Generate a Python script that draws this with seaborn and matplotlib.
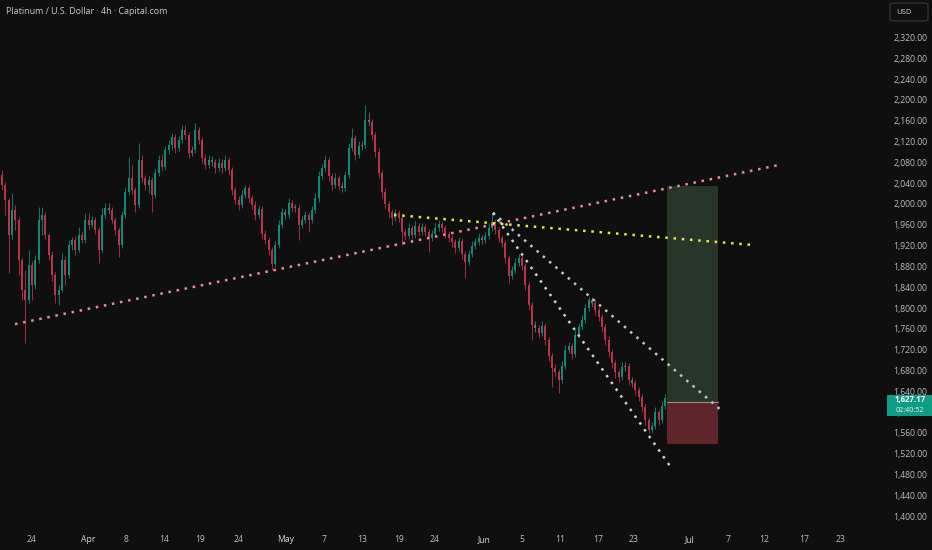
import matplotlib
matplotlib.use("Agg")
import matplotlib.pyplot as plt
from matplotlib.patches import Rectangle, FancyBboxPatch
import seaborn as sns
import numpy as np
import pandas as pd

FIRST_OPEN = 2056
CLOSES = [
    2037, 2008, 1940, 1988, 1969, 1892, 1835, 1815, 1883, 1844,
    1892, 1969, 1979, 1940, 1902, 1863, 1825, 1835, 1892, 1863,
    1921, 1931, 1912, 1940, 1931, 1969, 1960, 1969, 1950, 1912,
    1979, 1992, 1988, 1969, 1950, 1921, 1979, 2023, 2050, 2027,
    1998, 2085, 2050, 2037, 2046, 2017, 2060, 2085, 2071, 2104,
    2113, 2129, 2108, 2123, 2142, 2133, 2098, 2104, 2142, 2123,
    2088, 2075, 2085, 2081, 2069, 2079, 2069, 2085, 2065, 2027,
    2008, 1998, 2017, 2031, 2011, 1998, 1979, 1990, 1942, 1931,
    1912, 1885, 1921, 1960, 1985, 1979, 2002, 1992, 1992, 1960,
    1969, 1979, 1969, 1988, 2011, 2054, 2069, 2085, 2054, 2037,
    2050, 2035, 2031, 2056, 2108, 2127, 2094, 2111, 2113, 2162,
    2158, 2133, 2100, 2060, 2023, 2000, 1985, 1973, 1983, 1973,
    1946, 1938, 1954, 1940, 1958, 1946, 1956, 1946, 1935, 1942,
    1954, 1962, 1954, 1942, 1935, 1927, 1915, 1929, 1904, 1889,
    1904, 1919, 1927, 1935, 1931, 1938, 1954, 1965, 1950, 1935,
    1925, 1896, 1861, 1873, 1887, 1896, 1881, 1844, 1806, 1767,
    1761, 1752, 1765, 1738, 1708, 1685, 1677, 1662, 1688, 1719,
    1727, 1712, 1748, 1763, 1777, 1800, 1815, 1810, 1796, 1783,
    1763, 1738, 1715, 1694, 1677, 1667, 1686, 1688, 1662, 1656,
    1642, 1629, 1610, 1585, 1565, 1573, 1600, 1585, 1612, 1627.17,
]
WICK_UP = [
    9, 5, 4, 33, 10, 6, 5, 38, 29, 8,
    10, 25, 15, 6, 5, 8, 6, 10, 14, 8,
    10, 6, 8, 16, 8, 14, 14, 8, 6, 5,
    13, 10, 10, 6, 6, 5, 8, 10, 40, 25,
    6, 32, 10, 6, 8, 6, 8, 10, 12, 8,
    10, 8, 6, 8, 10, 10, 6, 8, 14, 6,
    6, 8, 10, 8, 6, 10, 8, 10, 6, 6,
    6, 8, 10, 6, 6, 6, 8, 8, 6, 8,
    6, 6, 8, 10, 8, 6, 10, 6, 8, 6,
    8, 8, 6, 8, 10, 10, 8, 9, 6, 6,
    10, 6, 8, 8, 10, 19, 6, 10, 8, 28,
    15, 6, 6, 8, 6, 8, 6, 6, 8, 6,
    6, 6, 10, 6, 10, 6, 8, 6, 6, 8,
    10, 8, 6, 6, 6, 6, 6, 8, 6, 6,
    8, 10, 8, 10, 6, 8, 10, 18, 6, 6,
    6, 6, 6, 8, 10, 8, 6, 6, 6, 6,
    8, 6, 10, 6, 6, 6, 8, 6, 10, 10,
    8, 6, 10, 8, 10, 8, 6, 6, 6, 6,
    6, 6, 8, 6, 6, 6, 10, 8, 6, 6,
    6, 6, 6, 6, 6, 8, 10, 6, 10, 8,
]
WICK_DN = [
    10, 29, 73, 8, 19, 29, 20, 82, 6, 29,
    7, 5, 29, 8, 10, 12, 15, 19, 5, 19,
    6, 10, 10, 5, 6, 6, 8, 5, 8, 25,
    4, 6, 8, 6, 10, 23, 6, 6, 5, 8,
    13, 6, 8, 10, 16, 32, 6, 6, 8, 6,
    8, 10, 10, 6, 6, 8, 10, 6, 6, 8,
    10, 8, 6, 8, 10, 6, 10, 6, 10, 10,
    8, 10, 6, 6, 8, 8, 10, 6, 10, 8,
    10, 12, 6, 6, 6, 8, 6, 8, 8, 29,
    6, 6, 23, 6, 6, 8, 6, 6, 10, 10,
    6, 8, 8, 6, 6, 6, 10, 6, 8, 6,
    8, 10, 10, 10, 12, 10, 10, 13, 6, 8,
    25, 8, 6, 8, 6, 8, 6, 8, 27, 6,
    6, 6, 8, 8, 8, 10, 10, 6, 10, 31,
    6, 6, 6, 6, 8, 6, 6, 6, 8, 8,
    8, 10, 13, 6, 6, 6, 8, 10, 10, 29,
    8, 10, 6, 10, 10, 37, 10, 26, 6, 6,
    6, 10, 6, 6, 6, 6, 6, 8, 10, 8,
    10, 10, 10, 10, 12, 10, 6, 8, 10, 8,
    10, 8, 10, 10, 5, 6, 6, 10, 6, 6,
]

# time axis labels (bar index positions) incl. the empty future area
TICK_POS = [9.0, 25.8, 37.2, 48.6, 59.4, 71.1, 85.2, 96.6, 108.0, 119.1, 129.9,
            144.6, 156.0, 167.4, 178.8, 189.6, 206.4, 217.8, 228.6, 240.6, 251.7]
TICK_LABELS = ["24", "Apr", "8", "14", "19", "24", "May", "7", "13", "19", "24",
               "Jun", "5", "11", "17", "23", "Jul", "7", "12", "17", "23"]
MONTHS = {"Apr", "May", "Jun", "Jul"}
PRICE_TICKS = list(range(1400, 2321, 40))

# drawings: (x0, p0, x1, p1) in bar index / price
TREND_PINK = (3.9, 1769, 233.1, 2075)
TREND_YELLOW = (117.6, 1979, 225.6, 1921)
TREND_UPPER = (147.3, 1983, 216.0, 1602)
TREND_LOWER = (147.3, 1983, 200.4, 1496)

# long position tool
POS_X0, POS_X1 = 199.5, 214.8
POS_ENTRY, POS_TARGET, POS_STOP = 1619, 2035, 1538.5
LAST_PRICE = 1627.17
COUNTDOWN = "02:40:52"

BG = "#0f0f0f"
TXT = "#bdbdbd"
UP_C, DN_C, FLAT_C = "#128a74", "#b8344a", "#6e6e6e"

sns.set_theme(style="dark", rc={"axes.facecolor": BG, "figure.facecolor": BG,
                                "axes.edgecolor": BG, "grid.color": BG})
plt.rcParams["font.family"] = ["Open Sans", "DejaVu Sans"]

df = pd.DataFrame({"close": CLOSES, "wu": WICK_UP, "wd": WICK_DN})
df["open"] = [FIRST_OPEN] + CLOSES[:-1]
df["idx"] = np.arange(len(df))
df["top"] = df[["open", "close"]].max(axis=1)
df["bot"] = df[["open", "close"]].min(axis=1)
df["high"] = df["top"] + df["wu"]
df["low"] = df["bot"] - df["wd"]
df["color"] = np.where((df["close"] - df["open"]).abs() < 7, FLAT_C,
                       np.where(df["close"] >= df["open"], UP_C, DN_C))

fig = plt.figure(figsize=(9.32, 5.5), dpi=100)
ax = fig.add_axes([0, 25 / 550, 882 / 932, 525 / 550])
ax.set_facecolor(BG)

# candles
ax.vlines(df["idx"], df["low"], df["high"], colors=df["color"], linewidth=0.6, zorder=2)
ax.bar(df["idx"], (df["top"] - df["bot"]).clip(lower=1.5), bottom=df["bot"],
       width=0.55, color=df["color"], linewidth=0, zorder=3)

# position tool
ax.add_patch(Rectangle((POS_X0, POS_ENTRY), POS_X1 - POS_X0, POS_TARGET - POS_ENTRY,
                       facecolor="#273628", edgecolor="none", zorder=1))
ax.add_patch(Rectangle((POS_X0, POS_STOP), POS_X1 - POS_X0, POS_ENTRY - POS_STOP,
                       facecolor="#5e252b", edgecolor="none", zorder=1))
ax.plot([POS_X0, POS_X1], [POS_ENTRY, POS_ENTRY], color="#8c948c", lw=0.8, zorder=4)

# dotted trend lines
for (x0, p0, x1, p1), col in [(TREND_PINK, "#f08a96"), (TREND_YELLOW, "#e4e84c"),
                              (TREND_UPPER, "#b9cdbd"), (TREND_LOWER, "#cdd6cf")]:
    sns.lineplot(x=[x0, x1], y=[p0, p1], ax=ax, color=col, linewidth=1.8,
                 linestyle=(0, (1, 2.3)), dash_capstyle="butt", zorder=5)

ax.set_xlim(-0.6, 264.0)
ax.set_ylim(1382.7, 2392.3)
ax.grid(False)

ax.yaxis.tick_right()
ax.set_yticks(PRICE_TICKS)
ax.set_yticklabels([f"{p:,.2f}" for p in PRICE_TICKS])
ax.tick_params(axis="y", length=0, pad=8, labelsize=6.2, labelcolor=TXT)

ax.set_xticks(TICK_POS)
ax.set_xticklabels(TICK_LABELS)
ax.tick_params(axis="x", length=0, pad=7, labelsize=6.2, labelcolor=TXT)
for lab in ax.get_xticklabels():
    if lab.get_text() in MONTHS:
        lab.set_color("#d6d6d6")
ax.set_xlabel("")
ax.set_ylabel("")
for s in ax.spines.values():
    s.set_visible(False)

# last price tag
fig.add_artist(Rectangle((887 / 932, 1 - 416 / 550), 45 / 932, 21 / 550,
                         transform=fig.transFigure, facecolor="#0e9d84",
                         edgecolor="none", zorder=10))
fig.text(910 / 932, 1 - 399.5 / 550, f"{LAST_PRICE:,.2f}", color="white", fontsize=5.6,
         fontweight="bold", ha="center", va="center", zorder=11)
fig.text(910 / 932, 1 - 411 / 550, COUNTDOWN, color="#e6f4f1", fontsize=5.2,
         ha="center", va="center", zorder=11)

# currency button
fig.add_artist(FancyBboxPatch((890 / 932, 1 - 21 / 550), 38 / 932, 18 / 550,
                              boxstyle="round,pad=0,rounding_size=0.004",
                              transform=fig.transFigure, facecolor=BG,
                              edgecolor="#3b3b3b", linewidth=0.8, zorder=10))
fig.text(896 / 932, 1 - 12 / 550, "USD", color="#cfcfcf", fontsize=5.5,
         ha="left", va="center", zorder=11)

fig.text(6 / 932, 1 - 11 / 550, "Platinum / U.S. Dollar · 4h · Capital.com",
         color="#cccccc", fontsize=6.4, ha="left", va="center")

fig.savefig("out.png", dpi=100, facecolor=BG)
